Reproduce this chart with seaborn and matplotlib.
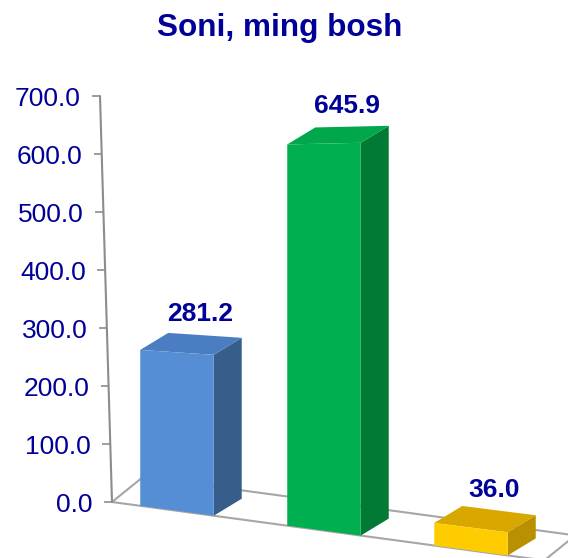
import numpy as np
import pandas as pd
import matplotlib
matplotlib.use("Agg")
import matplotlib.pyplot as plt
import matplotlib.transforms as mtransforms
import matplotlib.patches as mpatches
import seaborn as sns

# ---- data -------------------------------------------------------------
categories = ["Guruh 1", "Guruh 2", "Guruh 3"]
values = [281.2, 645.9, 36.0]
value_labels = ["281.2", "645.9", "36.0"]
y_ticks = [0, 100, 200, 300, 400, 500, 600, 700]
y_tick_labels = ["0.0", "100.0", "200.0", "300.0", "400.0", "500.0", "600.0", "700.0"]
title = "Soni, ming bosh"

# ---- colours ----------------------------------------------------------
front_colors = ["#558ED5", "#00B050", "#FFCC00"]
top_colors = ["#4A7DC2", "#00A84B", "#D9A800"]
side_colors = ["#375D8B", "#007A35", "#B89000"]
navy = "#000099"
axis_grey = "#8C8C8C"
floor_grey = "#A6A6A6"

sns.set_style("white")
plt.rcParams["font.family"] = ["Liberation Sans", "DejaVu Sans"]

W, H = 568, 558
fig = plt.figure(figsize=(W / 100, H / 100), dpi=100)

# plot area in pixels: value axis foot at (112, 502), top tick at y=96
x0_px, y0_px, top_px, right_px = 112, 502, 96, 537
ax = fig.add_axes([x0_px / W, (H - y0_px) / H,
                   (right_px - x0_px) / W, (y0_px - top_px) / H])

df = pd.DataFrame({"cat": categories, "val": values})
sns.barplot(data=df, x="cat", y="val", hue="cat", palette=front_colors,
            saturation=1, width=0.5, legend=False, linewidth=0, ax=ax)
bars = sorted([p for p in ax.patches if isinstance(p, mpatches.Rectangle)],
              key=lambda p: p.get_x())

ax.set_xlim(-0.442, 2.449)
ax.set_ylim(0, 700)
ax.set_yticks(y_ticks)
ax.set_yticklabels(y_tick_labels)
ax.set_xlabel("")
ax.set_ylabel("")
ax.xaxis.set_visible(False)
for s in ax.spines.values():
    s.set_visible(False)
ax.tick_params(axis="y", colors=axis_grey, labelcolor=navy, labelsize=19,
               length=6, width=1.2, pad=8, left=True)


class FloorPerspective(mtransforms.Transform):
    """Display-space projection: the floor slopes down to the right and
    heights grow slightly towards the viewer."""
    input_dims = output_dims = 2
    is_separable = False

    def __init__(self, x0, y0, slope, f0, growth):
        super().__init__()
        self.x0, self.y0 = x0, y0
        self.slope, self.f0, self.growth = slope, f0, growth

    def transform_non_affine(self, values):
        v = np.asarray(values, dtype=float).reshape(-1, 2)
        dx = v[:, 0] - self.x0
        h = v[:, 1] - self.y0
        y = self.y0 - self.slope * dx + h * (self.f0 + self.growth * dx)
        return np.column_stack([v[:, 0], y])


class WallTilt(mtransforms.Transform):
    """Leans the value axis slightly to the left as it rises."""
    input_dims = output_dims = 2
    is_separable = False

    def __init__(self, y0, lean):
        super().__init__()
        self.y0, self.lean = y0, lean

    def transform_non_affine(self, values):
        v = np.asarray(values, dtype=float).reshape(-1, 2)
        x = v[:, 0] - self.lean * (v[:, 1] - self.y0)
        return np.column_stack([x, v[:, 1]])


base_y = H - y0_px
persp = FloorPerspective(x0_px, base_y, 0.135, 0.944, 0.00042)
tilt = WallTilt(base_y, 12 / (y0_px - top_px))
bar_trans = ax.transData + persp
ident = mtransforms.IdentityTransform()

# value axis line, tick marks and labels lean with the wall
xmin, xmax = ax.get_xlim()
ax.plot([xmin, xmin], [0, 700], color=axis_grey, lw=1.5,
        transform=ax.transData + tilt, clip_on=False, zorder=3)
for tick in ax.yaxis.get_major_ticks():
    tick.label1.set_transform(tick.label1.get_transform() + tilt)
    tick.tick1line.set_transform(tick.tick1line.get_transform() + tilt)

# floor outline
floor_depth = np.array([31.0, 25.0])
fl = bar_trans.transform([(xmin, 0), (xmax + 0.05, 0)])
floor = mpatches.Polygon([fl[0], fl[1], fl[1] + floor_depth, fl[0] + floor_depth],
                         closed=True, fill=False, edgecolor=floor_grey, lw=1.5,
                         transform=ident, clip_on=False, zorder=0.5)
ax.add_artist(floor)

# front faces from seaborn, extruded into 3D blocks
bar_depth = np.array([28.0, 17.0])
for i, bar in enumerate(bars):
    bar.set_transform(bar_trans)
    bar.set_clip_on(False)
    bar.set_zorder(2)
    bx, bw, bh = bar.get_x(), bar.get_width(), bar.get_height()
    ftl, ftr, fbr = bar_trans.transform([(bx, bh), (bx + bw, bh), (bx + bw, 0)])
    btl, btr, bbr = ftl + bar_depth, ftr + bar_depth, fbr + bar_depth
    side = mpatches.Polygon([ftr, btr, bbr, fbr], closed=True,
                            facecolor=side_colors[i], edgecolor="none",
                            transform=ident, clip_on=False, zorder=1.5)
    top = mpatches.Polygon([ftl, ftr, btr, btl], closed=True,
                           facecolor=top_colors[i], edgecolor="none",
                           transform=ident, clip_on=False, zorder=1.5)
    ax.add_artist(side)
    ax.add_artist(top)
    lx = (ftl[0] + ftr[0]) / 2 + 23
    ly = (btl[1] + btr[1]) / 2 + 14
    ax.text(lx, ly, value_labels[i], transform=ident, ha="center",
            va="baseline", fontsize=19, fontweight="bold", color=navy,
            zorder=4)

fig.text(280 / W, 1 - 36 / H, title, ha="center", va="baseline",
         fontsize=22.7, fontweight="bold", color=navy)

fig.savefig("out.png", dpi=100, facecolor="white")
